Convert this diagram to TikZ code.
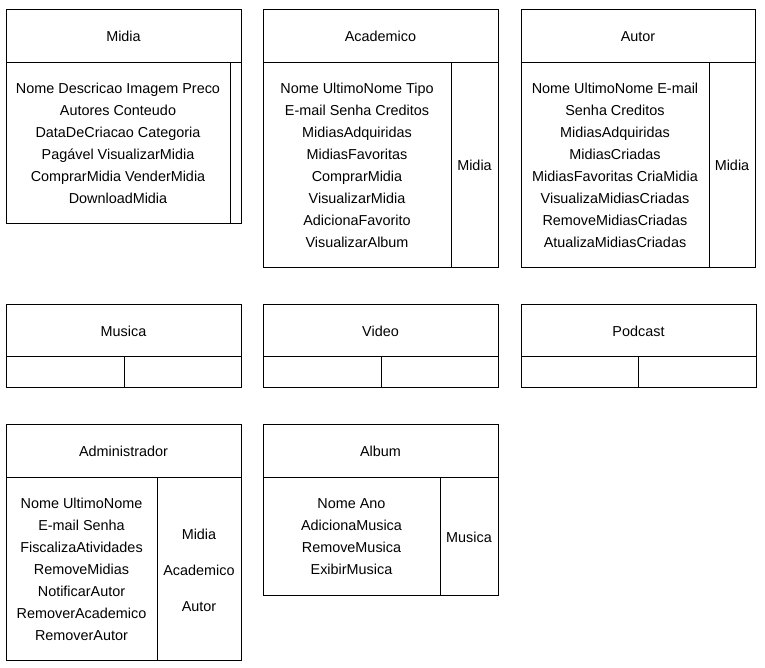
\documentclass[tikz,border=0pt]{standalone}
\usepackage{fontspec}
\setmainfont{Liberation Sans}
\begin{document}
\begin{tikzpicture}[x=1pt,y=-1pt,line width=1pt,
	texto/.style={align=center,inner sep=0pt,yshift=-1pt,font=\fontsize{14.4}{22}\selectfont}]
				\useasboundingbox (0,0) rectangle (765,667);
				
				% Midia
				\draw (6,9) rectangle (241,223);
				\draw (6,62) -- (241,62);
				\draw (230,62) -- (230,223);
				\node[texto] (midiaT) at (123.5,35.5) {Midia};
				\node[texto] (midiaA) at (118,142.5) {Nome Descricao Imagem Preco\\Autores Conteudo\\DataDeCriacao Categoria\\Pagável VisualizarMidia\\ComprarMidia VenderMidia\\DownloadMidia};
				
				% Academico
				\draw (263,9) rectangle (498,267);
				\draw (263,62) -- (498,62);
				\draw (451,62) -- (451,267);
				\node[texto] (academicoT) at (380.5,35.5) {Academico};
				\node[texto] (academicoA) at (357,164.5) {Nome UltimoNome Tipo\\E-mail Senha Creditos\\MidiasAdquiridas\\MidiasFavoritas\\ComprarMidia\\VisualizarMidia\\AdicionaFavorito\\VisualizarAlbum};
				\node[texto] (academicoR) at (474.5,164.5) {Midia};
				
				% Autor
				\draw (521,9) rectangle (755,267);
				\draw (521,62) -- (755,62);
				\draw (709,62) -- (709,267);
				\node[texto] (autorT) at (638,35.5) {Autor};
				\node[texto] (autorA) at (615,164.5) {Nome UltimoNome E-mail\\Senha Creditos\\MidiasAdquiridas\\MidiasCriadas\\MidiasFavoritas CriaMidia\\VisualizaMidiasCriadas\\RemoveMidiasCriadas\\AtualizaMidiasCriadas};
				\node[texto] (autorR) at (732,164.5) {Midia};
				
				% Musica, Video, Podcast
				\foreach \xa/\xm/\nome in {6/124/Musica,263/381/Video,521/638/Podcast}{
					\draw (\xa,304) rectangle ++(235,83);
					\draw (\xa,356) -- ++(235,0);
					\draw (\xm,356) -- (\xm,387);
					\node[texto] (\nome T) at ({\xa+117.5},330) {\nome};
				}
				
				% Administrador
				\draw (6,424) rectangle (241,660);
				\draw (6,477) -- (241,477);
				\draw (157,477) -- (157,660);
				\node[texto] (adminT) at (123.5,450.5) {Administrador};
				\node[texto] (adminA) at (81.5,568.5) {Nome UltimoNome\\E-mail Senha\\FiscalizaAtividades\\RemoveMidias\\NotificarAutor\\RemoverAcademico\\RemoverAutor};
				\node[texto,font=\fontsize{14.4}{36}\selectfont] (adminR) at (199,569) {Midia\\Academico\\Autor};
				
				% Album
				\draw (263,424) rectangle (498,595);
				\draw (263,477) -- (498,477);
				\draw (440,477) -- (440,595);
				\node[texto] (albumT) at (380.5,450.5) {Album};
				\node[texto] (albumA) at (351.5,536) {Nome Ano\\AdicionaMusica\\RemoveMusica\\ExibirMusica};
				\node[texto] (albumR) at (469,536) {Musica};
			\end{tikzpicture}
\end{document}
